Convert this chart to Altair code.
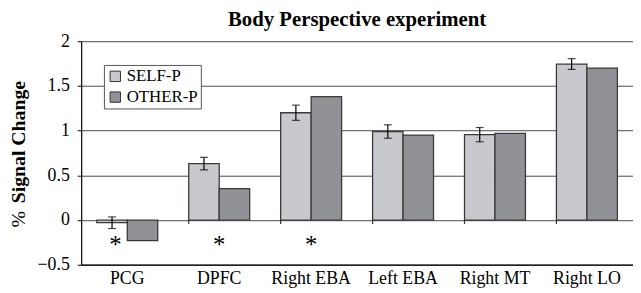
import altair as alt
import pandas as pd

categories = ["PCG", "DPFC", "Right EBA", "Left EBA", "Right MT", "Right LO"]
series = ["SELF-P", "OTHER-P"]
self_vals = [-0.03, 0.63, 1.20, 0.99, 0.955, 1.745]
self_err = [0.065, 0.07, 0.085, 0.075, 0.08, 0.06]
other_vals = [-0.23, 0.35, 1.38, 0.95, 0.97, 1.70]
star_cats = ["PCG", "DPFC", "Right EBA"]
star_y = -0.22
y_ticks = [-0.5, 0, 0.5, 1, 1.5, 2]

FONT = "Times New Roman, Liberation Serif, serif"

rows = []
for c, s, o in zip(categories, self_vals, other_vals):
    rows.append({"cat": c, "series": "SELF-P", "value": s})
    rows.append({"cat": c, "series": "OTHER-P", "value": o})
bars_df = pd.DataFrame(rows)

err_df = pd.DataFrame({
    "cat": categories,
    "series": ["SELF-P"] * len(categories),
    "lo": [v - e for v, e in zip(self_vals, self_err)],
    "hi": [v + e for v, e in zip(self_vals, self_err)],
})

star_df = pd.DataFrame({"cat": star_cats, "y": [star_y] * len(star_cats), "t": ["*"] * len(star_cats)})
sep_df = pd.DataFrame({"cat": categories[1:]})

xscale = alt.Scale(domain=categories, paddingInner=0.337, paddingOuter=0.17)
xoff = alt.XOffset("series:N", scale=alt.Scale(domain=series))
yscale = alt.Scale(domain=[-0.5, 2], nice=False)

x_enc = alt.X("cat:N", scale=xscale, sort=categories,
              axis=alt.Axis(title=None, labelAngle=0, labelFont=FONT, labelFontSize=18,
                            labelColor="black", ticks=False, domainColor="black",
                            domainWidth=1.2, labelPadding=5, grid=False))

bars = alt.Chart(bars_df).mark_bar(stroke="#3a3a3a", strokeWidth=1.3).encode(
    x=x_enc,
    xOffset=xoff,
    y=alt.Y("value:Q", scale=yscale,
            axis=alt.Axis(title=None, values=y_ticks, format="~g", labelFont=FONT,
                          labelFontSize=18, labelColor="black", tickColor="black",
                          tickSize=4, labelPadding=8, domainColor="black",
                          domainWidth=1.2, grid=True, gridColor="#4a4a4a",
                          gridWidth=1)),
    color=alt.Color("series:N", scale=alt.Scale(domain=series, range=["#c8c9cc", "#919295"]),
                    legend=alt.Legend(title=None, orient="none", legendX=23, legendY=24,
                                      fillColor="white", strokeColor="#555555",
                                      padding=3, rowPadding=3, labelFont=FONT,
                                      labelFontSize=17, labelColor="black",
                                      symbolType="square", symbolSize=110,
                                      symbolStrokeColor="#333333", symbolStrokeWidth=1,
                                      symbolOpacity=1, labelOffset=3)),
)

err_rule = alt.Chart(err_df).mark_rule(color="black", strokeWidth=1.2).encode(
    x=alt.X("cat:N", scale=xscale, sort=categories),
    xOffset=xoff,
    y=alt.Y("lo:Q", scale=yscale),
    y2="hi:Q",
)
cap_lo = alt.Chart(err_df).mark_tick(color="black", size=8, thickness=1.2).encode(
    x=alt.X("cat:N", scale=xscale, sort=categories),
    xOffset=xoff,
    y=alt.Y("lo:Q", scale=yscale),
)
cap_hi = alt.Chart(err_df).mark_tick(color="black", size=8, thickness=1.2).encode(
    x=alt.X("cat:N", scale=xscale, sort=categories),
    xOffset=xoff,
    y=alt.Y("hi:Q", scale=yscale),
)

seps = alt.Chart(sep_df).mark_rule(color="#333333", strokeWidth=1.2).encode(
    x=alt.X("cat:N", scale=xscale, sort=categories, bandPosition=0),
    y=alt.Y(datum=0, scale=yscale),
    y2=alt.Y2(datum=-0.045),
)

stars_first = alt.Chart(star_df.iloc[:1]).mark_text(font=FONT, fontSize=25, baseline="middle", dx=-12, dy=5).encode(
    x=alt.X("cat:N", scale=xscale, sort=categories),
    y=alt.Y("y:Q", scale=yscale),
    text="t:N",
)
stars_rest = alt.Chart(star_df.iloc[1:]).mark_text(font=FONT, fontSize=25, baseline="middle", dy=5).encode(
    x=alt.X("cat:N", scale=xscale, sort=categories),
    y=alt.Y("y:Q", scale=yscale),
    text="t:N",
)

ytitle_bold = alt.Chart(pd.DataFrame({"t": ["Signal Change"]})).mark_text(
    font=FONT, fontSize=20, fontWeight="bold", angle=270, align="center", baseline="middle"
).encode(x=alt.value(-63), y=alt.value(102), text="t:N")
ytitle_pct = alt.Chart(pd.DataFrame({"t": ["%"]})).mark_text(
    font=FONT, fontSize=20, angle=270, align="center", baseline="middle"
).encode(x=alt.value(-63), y=alt.value(180), text="t:N")

chart = alt.layer(bars, seps, err_rule, cap_lo, cap_hi, stars_first, stars_rest,
                  ytitle_bold, ytitle_pct).properties(
    width=558, height=226,
    title=alt.TitleParams("Body Perspective experiment", font=FONT, fontSize=21,
                          fontWeight="bold", color="black", offset=2),
    autosize=alt.AutoSizeParams(type="none"),
    padding={"left": 74, "top": 32, "right": 0, "bottom": 27},
).configure_view(stroke=None).configure_axis(labelFont=FONT).configure_text(font=FONT)

chart.save("out.html", embed_options={"renderer": "svg", "actions": False})
